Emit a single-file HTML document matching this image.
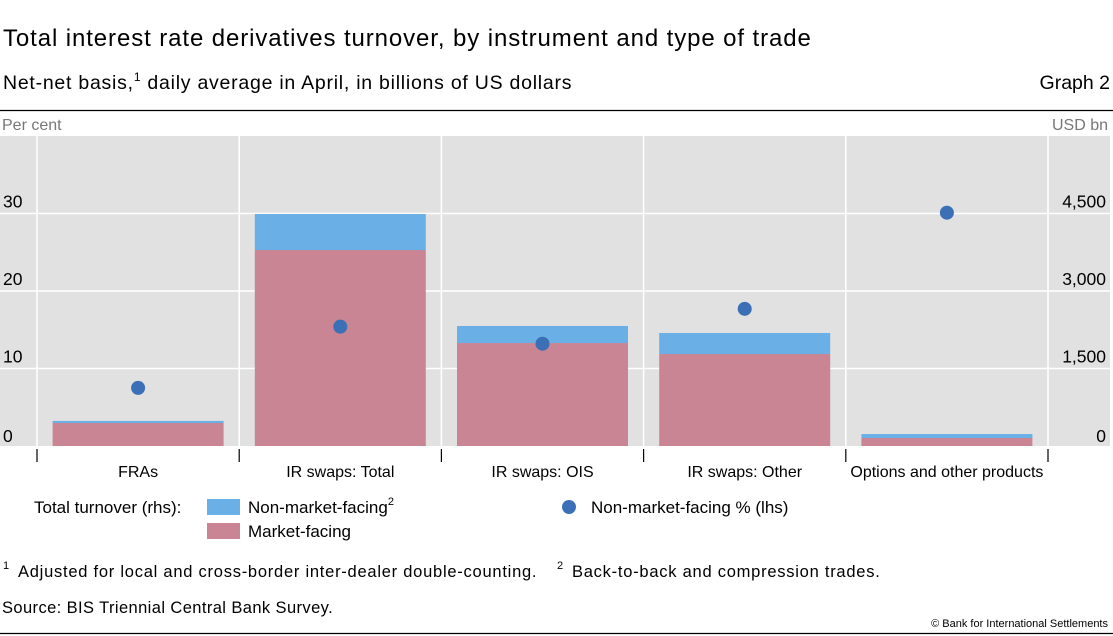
<!DOCTYPE html>
<html><head><meta charset="utf-8"><style>
body{margin:0;background:#fff;}
svg{display:block;font-family:"Liberation Sans",sans-serif;}
</style></head><body>
<svg id="c" width="1113" height="636" viewBox="0 0 1113 636">
<text x="3" y="46" font-size="24" letter-spacing="0.9" fill="#000">Total interest rate derivatives turnover, by instrument and type of trade</text>
<text x="3" y="89" font-size="19.5" letter-spacing="0.75" fill="#000">Net-net basis,<tspan font-size="12" dy="-8">1</tspan><tspan dy="8"> daily average in April, in billions of US dollars</tspan></text>
<text x="1110" y="89" font-size="19.5" text-anchor="end">Graph 2</text>
<line x1="0" y1="110.5" x2="1113" y2="110.5" stroke="#000" stroke-width="1.2"/>
<text x="2" y="130" font-size="16" fill="#777">Per cent</text>
<text x="1108" y="130" font-size="16" fill="#777" text-anchor="end">USD bn</text>
<rect x="0" y="136" width="1110" height="310" fill="#e1e1e1"/>
<g id="grid"></g><g id="bars"></g><g id="dots"></g><g id="axes"></g>
<g>
<text x="34" y="513" font-size="17">Total turnover (rhs):</text>
<rect x="207" y="499" width="33" height="16" fill="#6ab0e6"/>
<text x="248" y="513" font-size="17">Non-market-facing<tspan font-size="11" dy="-8">2</tspan></text>
<rect x="207" y="523" width="33" height="16" fill="#c98594"/>
<text x="248" y="537" font-size="17">Market-facing</text>
<circle cx="569" cy="507" r="7" fill="#3b70b6"/>
<text x="591" y="513" font-size="17">Non-market-facing % (lhs)</text>
</g>
<g>
<text x="3" y="569" font-size="11">1</text>
<text x="18" y="577" font-size="16.5" letter-spacing="0.75">Adjusted for local and cross-border inter-dealer double-counting.</text>
<text x="557" y="569" font-size="11">2</text>
<text x="572" y="577" font-size="16.5" letter-spacing="0.75">Back-to-back and compression trades.</text>
</g>
<text x="2" y="613" font-size="16.5" letter-spacing="0.4">Source: BIS Triennial Central Bank Survey.</text>
<text x="1108" y="627" font-size="11" text-anchor="end">© Bank for International Settlements</text>
<line x1="0" y1="633.5" x2="1113" y2="633.5" stroke="#000" stroke-width="1.2"/>
</svg>
<script>
const categories=["FRAs","IR swaps: Total","IR swaps: OIS","IR swaps: Other","Options and other products"];
const marketFacing=[445,3793,1993,1780,155];
const nonMarketFacing=[40,697,330,407,77];
const nonMarketPct=[7.5,15.4,13.2,17.7,30.1];
const leftTicks=[0,10,20,30];
const rightTicks=[0,1500,3000,4500];
const rightTickLabels=["0","1,500","3,000","4,500"];

const NS="http://www.w3.org/2000/svg";
const y0=446,pxPerPct=7.75;
function yL(v){return y0-v*pxPerPct;}
function yR(v){return y0-v*(77.5/1500);}
const xStart=37,catW=202.2;
function xC(i){return xStart+catW*(i+0.5);}
function mk(tag,attrs,parent){const e=document.createElementNS(NS,tag);for(const k in attrs)e.setAttribute(k,attrs[k]);parent.appendChild(e);return e;}
const grid=document.getElementById('grid'),bars=document.getElementById('bars'),dots=document.getElementById('dots'),axes=document.getElementById('axes');
leftTicks.forEach((t,i)=>{
  if(t>0){const l=mk('line',{x1:0,x2:1110,y1:yL(t),y2:yL(t),stroke:'#fff','stroke-width':1.5},grid);
  
  }
  const tx=mk('text',{x:3,y:yL(t)-(t===0?4:6),'font-size':17.5},axes);tx.textContent=t;
  
  
});
rightTicks.forEach((t,i)=>{
  const tx=mk('text',{x:1106,y:yR(t)-(t===0?4:6),'font-size':17.5,'text-anchor':'end'},axes);tx.textContent=rightTickLabels[i];
  
  
});
for(let i=0;i<=categories.length;i++){
  const x=xStart+catW*i;
  const g=mk('line',{x1:x,x2:x,y1:136,y2:446,stroke:'#fff','stroke-width':1.5},grid);
  
  
  const t=mk('line',{x1:x,x2:x,y1:449,y2:462,stroke:'#000','stroke-width':1.2},axes);
  
  
}
const bw=171;
categories.forEach((c,i)=>{
  const x=xC(i)-bw/2;
  const m=mk('rect',{x:x,width:bw,y:yR(marketFacing[i]),height:y0-yR(marketFacing[i]),fill:'#c98594'},bars);
  
  
  const top=marketFacing[i]+nonMarketFacing[i];
  const n=mk('rect',{x:x,width:bw,y:yR(top),height:yR(marketFacing[i])-yR(top),fill:'#6ab0e6'},bars);
  
  
  const d=mk('circle',{cx:xC(i),cy:yL(nonMarketPct[i]),r:7,fill:'#3b70b6'},dots);
  
  
  const l=mk('text',{x:xC(i),y:477,'font-size':16,'text-anchor':'middle'},axes);l.textContent=c;
  
  
});
</script>
</body></html>
